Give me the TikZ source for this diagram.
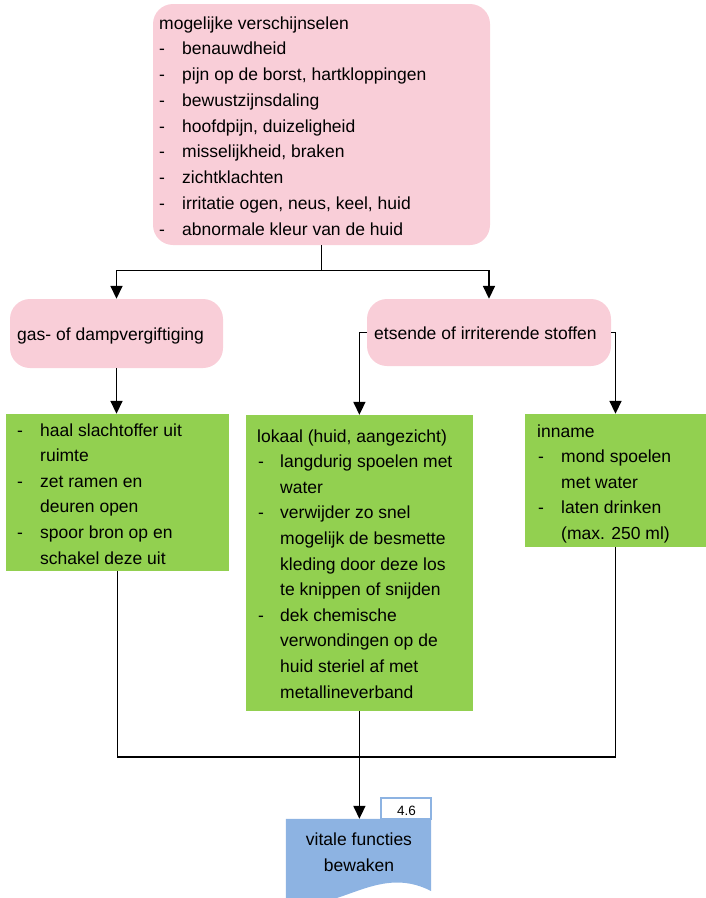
\documentclass[tikz,border=0pt]{standalone}
\usepackage{fontspec}
\setmainfont{Liberation Sans}
\usetikzlibrary{arrows.meta}
\definecolor{pinkfill}{RGB}{249,206,216}
\definecolor{greenfill}{RGB}{146,208,80}
\definecolor{bluefill}{RGB}{141,179,226}
\begin{document}
\begin{tikzpicture}[x=1pt,y=-1pt,
  txt/.style={anchor=base west, inner sep=0pt, font=\fontsize{17.5}{21}\selectfont},
  ctxt/.style={anchor=base, inner sep=0pt, font=\fontsize{17.5}{21}\selectfont},
  pinkshape/.style={fill=pinkfill, rounded corners=20pt, inner sep=0pt, draw=none},
  greenshape/.style={fill=greenfill, inner sep=0pt, draw=none},
  conn/.style={line width=1.7pt, draw=black},
  arr/.style={conn, -{Triangle[width=12pt,length=13pt]}}]
\useasboundingbox (0,0) rectangle (706,898);

% boxes
\node[pinkshape, minimum width=337pt, minimum height=241pt] (top) at (321.5,124.5) {};
\node[pinkshape, minimum width=213pt, minimum height=69pt] (gas) at (116.5,333.5) {};
\node[pinkshape, minimum width=244pt, minimum height=67pt] (ets) at (489,332.5) {};
\node[greenshape, minimum width=223pt, minimum height=157pt] (g1) at (117.5,492.5) {};
\node[greenshape, minimum width=226.7pt, minimum height=296pt] (g2) at (359.4,563) {};
\node[greenshape, minimum width=181pt, minimum height=133pt] (g3) at (615.5,480.5) {};

% document shape
\node[inner sep=0pt, minimum width=145pt, minimum height=72pt] (doc) at (358.5,855) {};
\fill[bluefill] (doc.north west) -- (doc.north east) -- (431,891)
  .. controls (375,862) and (335,918) .. (286,900) -- cycle;
\node[draw=bluefill, fill=white, line width=1.3pt, inner sep=0pt,
  minimum width=50pt, minimum height=21pt] (tag) at (406,808.5) {};
\node[anchor=base, inner sep=0pt, font=\fontsize{13.5}{15}\selectfont] (tagtxt) at (406.5,815.8) {4.6};

% texts: top box
\node[txt] (toptitle) at (159,29) {mogelijke verschijnselen};
\foreach \t [count=\i] in {benauwdheid, {pijn op de borst, hartkloppingen}, bewustzijnsdaling,
  {hoofdpijn, duizeligheid}, {misselijkheid, braken}, zichtklachten,
  {irritatie ogen, neus, keel, huid}, abnormale kleur van de huid}{
  \node[txt, name=topd\i] at (159,{29+25.75*\i}) {-};
  \node[txt, name=topt\i] at (182,{29+25.75*\i}) {\t};
}

% pink texts
\node[txt] (gastxt) at (17,340) {gas- of dampvergiftiging};
\node[txt] (etstxt) at (374,339.5) {etsende of irriterende stoffen};

% left green
\foreach \t [count=\i from 0] in {haal slachtoffer uit, ruimte, zet ramen en, deuren open,
  spoor bron op en, schakel deze uit}{
  \node[txt, name=gat\i] at (40,{436+25.6*\i}) {\t};
}
\foreach \i in {0,2,4}{\node[txt, name=gad\i] at (17,{436+25.6*\i}) {-};}

% middle green
\node[txt] (lok) at (257,442) {lokaal (huid, aangezicht)};
\foreach \t [count=\i] in {langdurig spoelen met, water, verwijder zo snel, mogelijk de besmette,
  kleding door deze los, te knippen of snijden, dek chemische, verwondingen op de,
  huid steriel af met, metallineverband}{
  \node[txt, name=lokt\i] at (280,{442+25.6*\i}) {\t};
}
\foreach \i in {1,3,7}{\node[txt, name=lokd\i] at (258,{442+25.6*\i}) {-};}

% right green
\node[txt] (inn) at (537,437) {inname};
\foreach \t [count=\i] in {mond spoelen, met water, laten drinken, (max. 250 ml)}{
  \node[txt, name=innt\i] at (561,{437+25.5*\i}) {\t};
}
\foreach \i in {1,3}{\node[txt, name=innd\i] at (538,{437+25.5*\i}) {-};}

% doc text
\node[ctxt] (doc1) at (359,845) {vitale functies};
\node[ctxt] (doc2) at (359,871.7) {bewaken};

% connectors
\coordinate (split) at (321.5,270.5);
\coordinate (join) at (359,757);
\draw[conn] (top.south) -- (split);
\draw[arr] (split) -| (gas.north);
\draw[arr] (split) -| (ets.north);
\draw[arr] (gas.south) -- (gas.south |- g1.north);
\draw[arr] (ets.west) -| (g2.north);
\draw[arr] (ets.east) -| (g3.north);
\draw[conn] (g1.south) -- (g1.south |- join) -| (g3.south);
\draw[arr] (g2.south) -- (g2.south |- doc.north);
\end{tikzpicture}
\end{document}
